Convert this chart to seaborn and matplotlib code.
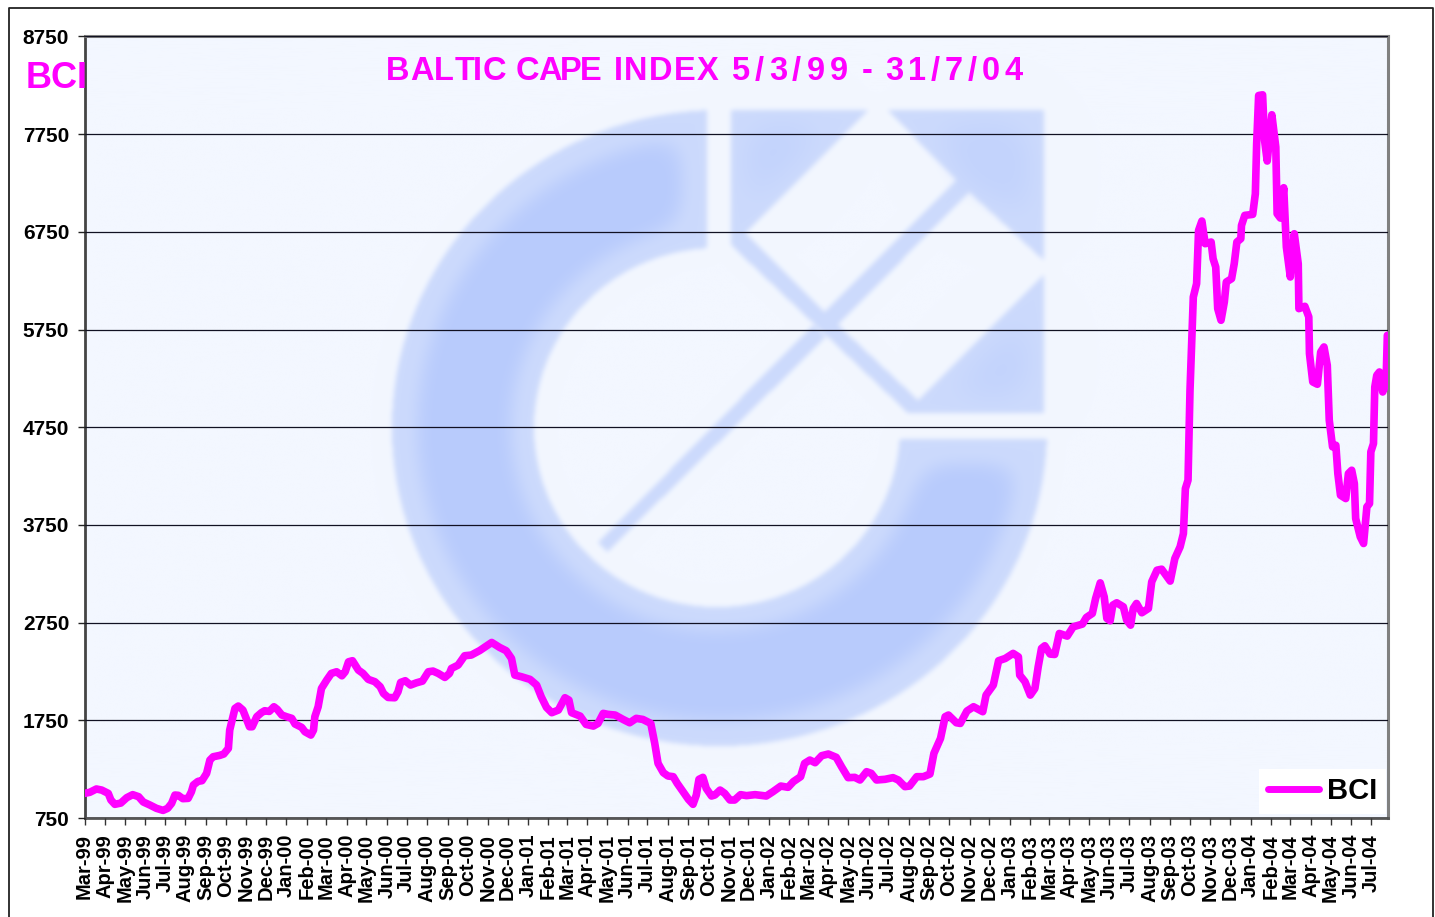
import numpy as np
import pandas as pd
import matplotlib
matplotlib.use("Agg")
import matplotlib.pyplot as plt
from matplotlib.path import Path
from matplotlib.lines import Line2D
from matplotlib.text import Text
import seaborn as sns

# ---------- data ----------
START = "1999-03-05"
END = "2004-07-31"
Y_TICKS = [750, 1750, 2750, 3750, 4750, 5750, 6750, 7750, 8750]
TITLE = "BALTIC CAPE INDEX 5/3/99 - 31/7/04"
SERIES = "BCI"
DAYS = [0, 8, 18, 26, 36, 40, 46, 55, 64, 73, 82, 89, 99, 109, 119, 126, 132, 137, 142, 149,
        157, 162, 165, 172, 178, 185, 190, 195, 205, 211, 218, 220, 225, 228, 233, 240, 246, 250, 254, 261,
        268, 273, 280, 287, 292, 299, 306, 314, 319, 329, 334, 343, 347, 349, 354, 359, 367, 374, 382, 390,
        395, 400, 406, 415, 422, 430, 440, 448, 453, 460, 470, 475, 479, 486, 494, 503, 512, 521, 528, 536,
        546, 553, 556, 566, 576, 586, 599, 617, 629, 639, 647, 652, 662, 675, 685, 692, 700, 708, 718, 728,
        734, 738, 751, 760, 771, 778, 786, 793, 804, 816, 826, 836, 846, 858, 864, 869, 877, 884, 892, 898,
        907, 915, 922, 927, 931, 937, 942, 950, 955, 963, 970, 978, 985, 994, 1003, 1016, 1033, 1043, 1055, 1066,
        1074, 1085, 1091, 1099, 1107, 1117, 1127, 1139, 1147, 1157, 1167, 1175, 1185, 1192, 1200, 1213, 1225, 1233, 1243, 1250,
        1261, 1271, 1281, 1287, 1297, 1304, 1309, 1321, 1327, 1337, 1347, 1361, 1366, 1377, 1385, 1395, 1407, 1415, 1417, 1425,
        1433, 1440, 1445, 1450, 1455, 1463, 1470, 1477, 1489, 1498, 1512, 1518, 1527, 1532, 1539, 1545, 1549, 1554, 1558, 1564,
        1574, 1579, 1585, 1589, 1594, 1602, 1612, 1617, 1625, 1632, 1645, 1652, 1660, 1665, 1668, 1672, 1675, 1680, 1685, 1688,
        1693, 1698, 1707, 1710, 1714, 1717, 1722, 1727, 1730, 1738, 1742, 1746, 1752, 1753, 1758, 1770, 1774, 1776, 1779, 1785,
        1788, 1792, 1799, 1805, 1807, 1812, 1817, 1821, 1827, 1833, 1839, 1840, 1849, 1855, 1856, 1861, 1868, 1873, 1878, 1883,
        1886, 1891, 1896, 1899, 1903, 1911, 1915, 1920, 1924, 1926, 1933, 1938, 1943, 1947, 1949, 1953, 1955, 1958, 1962, 1967,
        1972, 1974]
BCI = [1002, 1013, 1047, 1036, 1002, 934, 890, 903, 958, 989, 968, 914, 883, 849, 828, 849, 900, 985, 982, 948,
       951, 1019, 1088, 1125, 1132, 1207, 1343, 1377, 1391, 1405, 1463, 1650, 1787, 1872, 1896, 1855, 1753, 1684, 1684, 1787,
       1828, 1848, 1841, 1889, 1862, 1804, 1787, 1770, 1712, 1678, 1633, 1599, 1650, 1787, 1889, 2076, 2162, 2230, 2247, 2206,
       2247, 2349, 2360, 2264, 2230, 2169, 2145, 2094, 2025, 1984, 1981, 2042, 2138, 2155, 2111, 2134, 2151, 2247, 2254, 2230,
       2189, 2230, 2281, 2315, 2411, 2418, 2465, 2547, 2496, 2462, 2383, 2213, 2196, 2169, 2111, 1991, 1882, 1828, 1855, 1981,
       1957, 1828, 1793, 1708, 1691, 1718, 1821, 1811, 1804, 1759, 1725, 1770, 1759, 1718, 1514, 1309, 1214, 1180, 1173, 1105,
       1019, 941, 890, 985, 1146, 1166, 1053, 975, 985, 1036, 1002, 934, 934, 989, 979, 989, 975, 1019, 1077, 1064,
       1122, 1173, 1309, 1343, 1316, 1388, 1405, 1371, 1275, 1163, 1166, 1139, 1224, 1207, 1139, 1146, 1163, 1139, 1071, 1077,
       1173, 1173, 1200, 1412, 1565, 1787, 1804, 1725, 1718, 1845, 1889, 1838, 2008, 2111, 2360, 2383, 2435, 2400, 2213, 2145,
       2008, 2076, 2298, 2486, 2513, 2428, 2424, 2639, 2612, 2707, 2735, 2803, 2844, 2997, 3157, 3014, 2793, 2769, 2929, 2953,
       2912, 2776, 2724, 2895, 2946, 2851, 2895, 3168, 3287, 3297, 3175, 3406, 3526, 3662, 4122, 4208, 5128, 6083, 6220, 6765,
       6861, 6629, 6646, 6475, 6390, 5964, 5845, 6032, 6237, 6271, 6424, 6646, 6680, 6816, 6919, 6929, 7140, 7652, 8146, 8153,
       7686, 7475, 7949, 7618, 6936, 6891, 7202, 6595, 6288, 6731, 6424, 5964, 5988, 5879, 5504, 5214, 5190, 5520, 5572, 5384,
       4822, 4549, 4566, 4276, 4054, 4020, 4276, 4310, 4174, 3816, 3628, 3560, 3935, 3969, 4498, 4583, 5163, 5282, 5316, 5111,
       5196, 5691]

W, H = 1435, 917
MAGENTA = "#FF00FF"

sns.set_theme(style="white")
plt.rcParams["font.family"] = ["Liberation Sans", "DejaVu Sans"]
plt.rcParams["font.weight"] = "bold"
plt.rcParams["axes.unicode_minus"] = False

fig = plt.figure(figsize=(W / 100, H / 100), dpi=100, facecolor="white")
L, R, T, B = 84.5, 1388.0, 36.5, 818.0
ax = fig.add_axes([L / W, (H - B) / H, (R - L) / W, (B - T) / H])
ax.set_facecolor("#F3F7FF")


# ---------- blurred logo behind the plot ----------
def blur(a, sigma):
    fy = np.fft.fftfreq(a.shape[0])[:, None]
    fx = np.fft.rfftfreq(a.shape[1])[None, :]
    k = np.exp(-2 * (np.pi * sigma) ** 2 * (fx ** 2 + fy ** 2))
    return np.fft.irfft2(np.fft.rfft2(a) * k, s=a.shape)


def poly(pts, X, Y):
    p = Path(pts)
    return p.contains_points(np.c_[X.ravel(), Y.ravel()]).reshape(X.shape)


X, Y = np.meshgrid(np.arange(L, R, 1.0), np.arange(T, B, 1.0))
outer = ((X - 718.5) / 327.5) ** 2 + ((Y - 428) / 318) ** 2 <= 1
inner = ((X - 716) / 183) ** 2 + ((Y - 427.5) / 179.5) ** 2 <= 1
ring = outer & ~inner & ((X < 706) | (Y >= 439))
square = poly([(730, 110), (1043, 110), (1043, 413), (907, 413), (730, 245)], X, Y)
rh1 = poly([(877, 100), (955, 180), (824, 312), (745, 233)], X, Y)
rh2 = poly([(968, 192), (1050, 267), (917, 400), (837, 325)], X, Y)
bar = poly([(597, 543), (606, 552), (825, 337), (812, 325)], X, Y)
shape = ring | (square & ~rh1 & ~rh2) | bar

soft = blur(shape.astype(float), 2.5)
wide = blur(ring.astype(float), 25)
t = np.clip((wide - 0.72) / (0.96 - 0.72), 0, 1)
deep_ring = blur(t * t * (3 - 2 * t) * ring, 5)
wide_sq = blur((square & ~rh1 & ~rh2).astype(float), 25)
t2 = np.clip((wide_sq - 0.55) / 0.3, 0, 1)
deep = np.clip(deep_ring + 0.45 * blur(t2 * square, 8), 0, 1)
bg = np.array([243, 247, 255.0])
light = np.array([204, 218, 252.0])
dark = np.array([184, 203, 253.0])
img = bg[None, None, :] * (1 - soft[..., None]) + light[None, None, :] * soft[..., None]
img = img * (1 - deep[..., None]) + dark[None, None, :] * deep[..., None]
ax.imshow(np.clip(img, 0, 255).astype(np.uint8), extent=(0, 1, 0, 1), transform=ax.transAxes,
          aspect="auto", origin="upper", zorder=0, interpolation="bilinear")

# ---------- line ----------
dates = pd.Timestamp(START) + pd.to_timedelta(DAYS, unit="D")
frame = pd.DataFrame({"date": dates, SERIES: BCI})
sns.lineplot(data=frame, x="date", y=SERIES, sort=False, estimator=None, errorbar=None, ax=ax,
             color=MAGENTA, linewidth=5.5, label=SERIES, zorder=3,
             solid_joinstyle="round", solid_capstyle="round")

ax.set_xlim(pd.Timestamp(START), pd.Timestamp(END))
ax.set_ylim(Y_TICKS[0], Y_TICKS[-1])
ax.set_xlabel("")
ax.set_ylabel("")

# ---------- axes ----------
month_ticks = pd.date_range(START, END, freq=pd.DateOffset(months=1))
ax.set_xticks(month_ticks)
ax.set_xticklabels([d.strftime("%b-%y") for d in month_ticks], rotation=90, ha="center", va="top",
                   fontsize=14.5, fontweight="bold", color="black")
ax.set_yticks(Y_TICKS)
ax.set_yticklabels([str(v) for v in Y_TICKS], fontsize=15, fontweight="bold", color="black")
ax.tick_params(axis="x", bottom=True, length=5, width=1, color="#333333", pad=6.5)
ax.tick_params(axis="y", left=True, length=5, width=1, color="#222222", pad=6)
ax.grid(axis="y", color="#111122", linewidth=0.9, zorder=1)
ax.grid(axis="x", visible=False)
ax.set_axisbelow(False)
for ln in ax.get_ygridlines():
    ln.set_zorder(1)
for side, col, lw in (("left", "#444444", 2.0), ("bottom", "#555555", 2.0),
                      ("top", "#808080", 2.2), ("right", "#808080", 2.2)):
    ax.spines[side].set_visible(True)
    ax.spines[side].set_color(col)
    ax.spines[side].set_linewidth(lw)

# ---------- legend ----------
leg = ax.legend(loc="lower right", bbox_to_anchor=((1386 - L) / (R - L), (B - 814) / (B - T)),
                frameon=True, fancybox=False, facecolor="white", edgecolor="none", framealpha=1,
                prop={"size": 21, "weight": "bold"}, labelcolor="black",
                handlelength=1.75, handletextpad=0.28, borderpad=0.3, borderaxespad=0)
leg.set_zorder(5)
for h in leg.get_lines():
    h.set_solid_capstyle("round")
    h.set_linewidth(5.0)


# ---------- text ----------
class SpacedText(Text):
    """One text object; each word is letter-spaced to fit its (start, end) pixel range."""

    def __init__(self, *args, word_spans=(), **kwargs):
        super().__init__(*args, **kwargs)
        self.word_spans = word_spans

    def draw(self, renderer):
        fp = self.get_fontproperties()
        _, y0 = self.get_transform().transform(self.get_position())
        gc = renderer.new_gc()
        gc.set_foreground(self.get_color())
        gc.set_antialiased(True)
        yy = renderer.height - y0 if renderer.flipy() else y0
        for word, (x_start, x_end) in zip(self.get_text().split(" "), self.word_spans):
            natural = renderer.get_text_width_height_descent(word, fp, False)[0]
            gap = (x_end - x_start - natural) / max(len(word) - 1, 1)
            for i, ch in enumerate(word):
                adv = renderer.get_text_width_height_descent(word[:i], fp, False)[0] if i else 0
                renderer.draw_text(gc, x_start + adv + i * gap, yy, ch, fp, 0)
        gc.restore()


fig.add_artist(SpacedText(387 / W, 1 - 80 / H, TITLE, color=MAGENTA, fontsize=23.5, fontweight="bold",
                          ha="left", va="baseline", zorder=6, transform=fig.transFigure,
                          word_spans=[(386, 506), (516, 602), (614, 718), (731, 848), (862, 872), (885, 1023)]))
fig.text(25.5 / W, 1 - 87.5 / H, SERIES, color=MAGENTA, fontsize=26, fontweight="bold",
         ha="left", va="baseline", zorder=6)

# ---------- outer frame (open at the bottom of the image) ----------
fig.add_artist(Line2D([8.5 / W, 8.5 / W, 1433 / W, 1433 / W], [0, 1 - 7.5 / H, 1 - 7.5 / H, 0],
                      color="#222222", linewidth=1.3, transform=fig.transFigure))

fig.savefig("out.png", dpi=100, facecolor="white")
